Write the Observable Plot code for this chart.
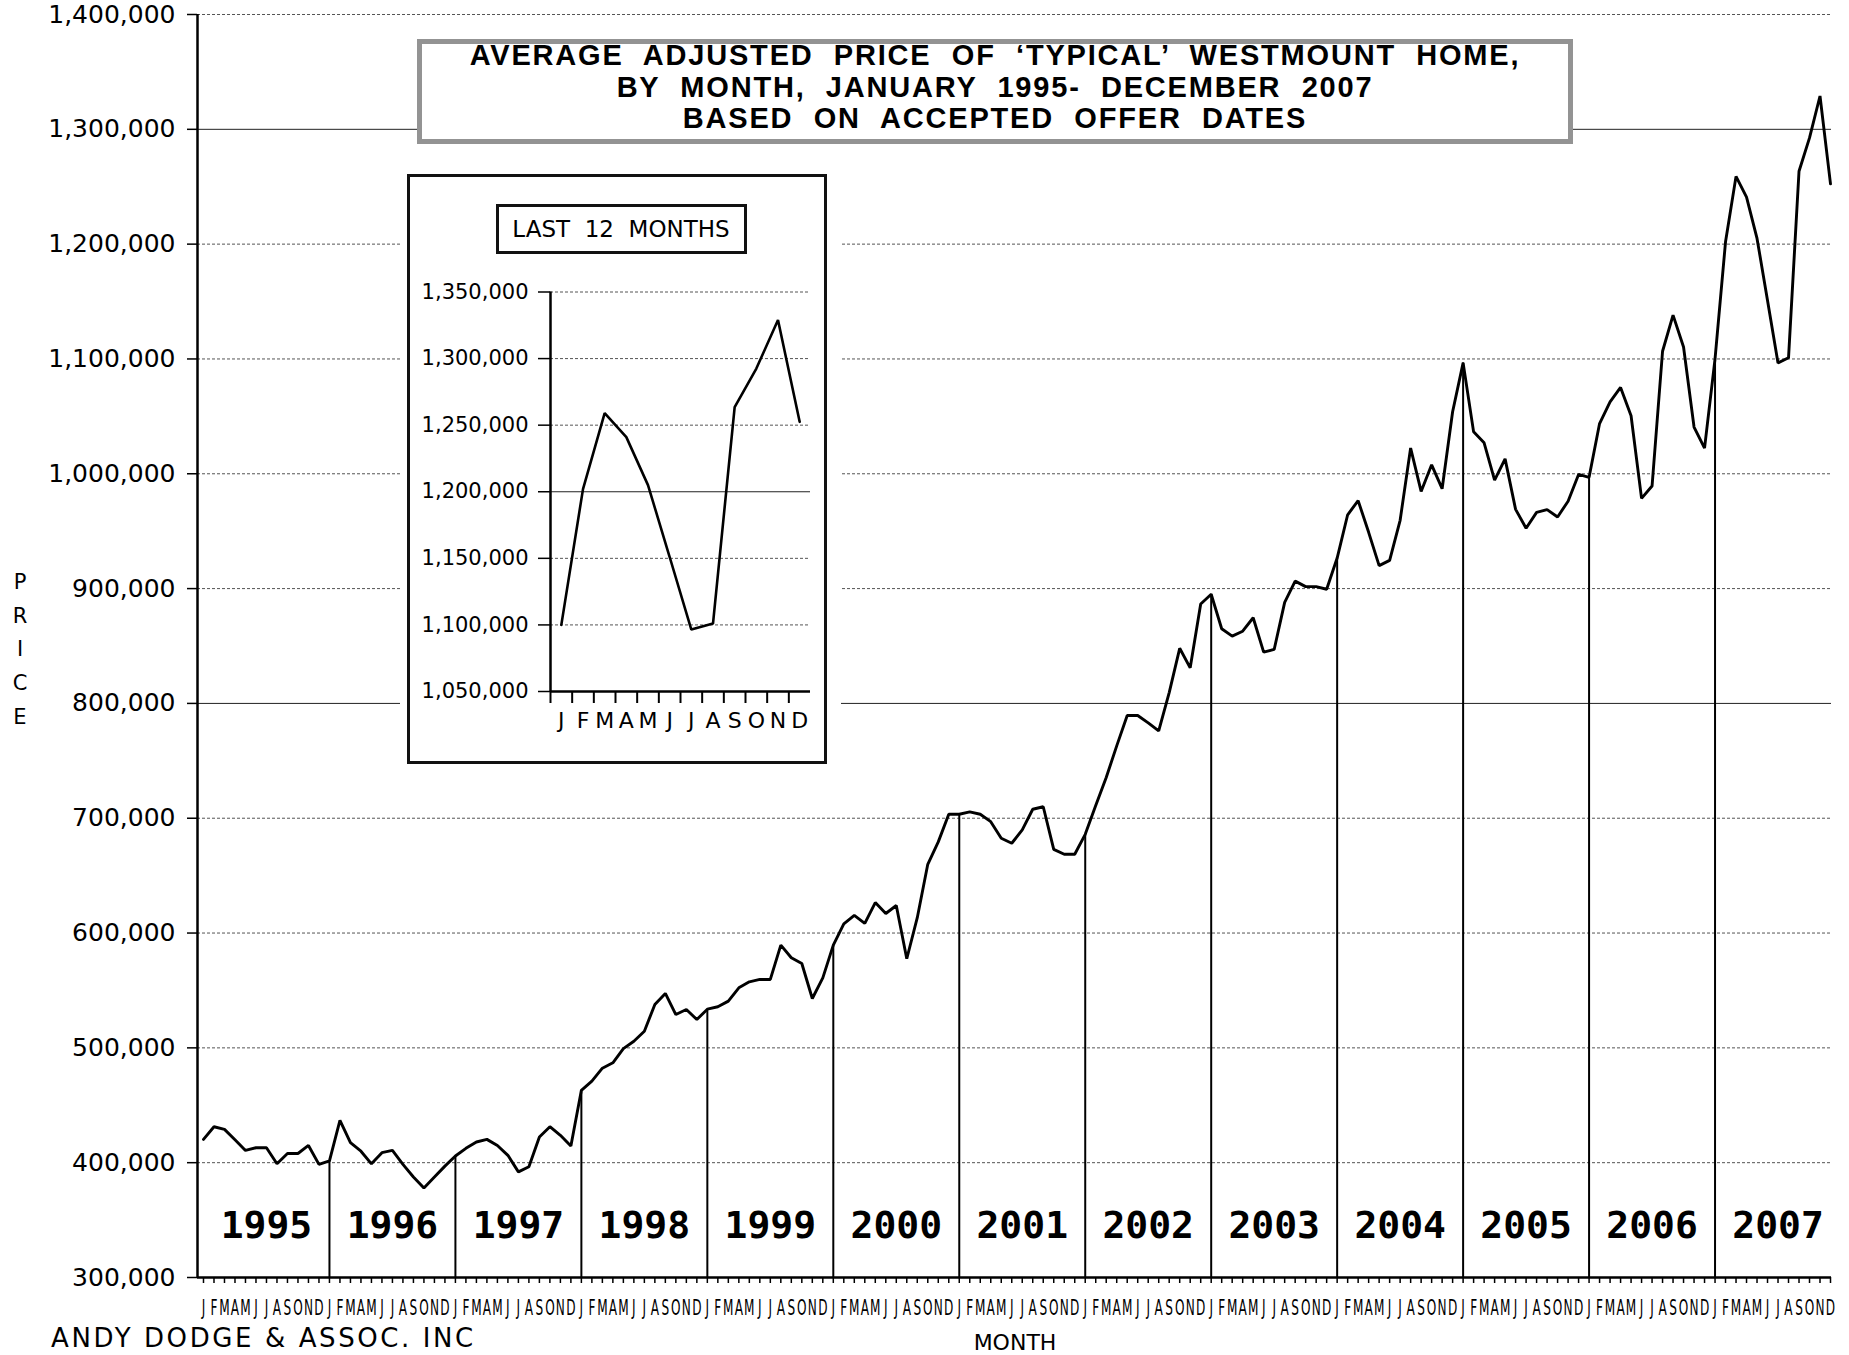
<!DOCTYPE html>
<html>
<head>
<meta charset="utf-8">
<script src="https://cdn.jsdelivr.net/npm/d3@7"></script>
<script src="https://cdn.jsdelivr.net/npm/@observablehq/plot@0.6"></script>
<style>
  html, body { margin: 0; padding: 0; background: #fff; }
  #root { position: relative; width: 1849px; height: 1355px; overflow: hidden; font-family: "DejaVu Sans", sans-serif; color: #000; }
  #main svg, #insetPlot svg { position: absolute; left: 0; top: 0; max-width: none !important; }
  .abs { position: absolute; }
</style>
</head>
<body>
<div id="root">
  <div id="main" class="abs" style="left:0;top:0;width:1849px;height:1355px;"></div>
  <div class="abs" style="left:417px;top:39px;width:1156px;height:105px;box-sizing:border-box;border:5px solid #939393;background:#fff;"></div>
  <div id="title" class="abs" style="left:417px;top:39.9px;width:1156px;text-align:center;font-family:'Liberation Sans',Arial,sans-serif;font-weight:bold;font-size:29px;line-height:31.8px;letter-spacing:1.8px;word-spacing:10.5px;white-space:nowrap;"></div>
  <div class="abs" style="left:400px;top:173px;width:441px;height:591px;background:#fff;"></div>
  <div id="inset" class="abs" style="left:407px;top:173.5px;width:420px;height:590px;box-sizing:border-box;border:3px solid #111;background:#fff;">
    <div id="insetPlot" class="abs" style="left:0;top:0;width:414px;height:584px;"></div>
    <div id="insetTitle" class="abs" style="left:85.5px;top:27px;width:251px;height:50px;box-sizing:border-box;border:3px solid #111;display:flex;align-items:center;justify-content:center;font-size:23px;white-space:pre;background:#fff;"></div>
  </div>
  <div id="ylabel" class="abs" style="left:0;top:566px;width:40px;text-align:center;font-size:21px;line-height:33.7px;"></div>
  <div id="xlabel" class="abs" style="left:915px;top:1330px;width:200px;text-align:center;font-size:22px;line-height:26px;"></div>
  <div id="credit" class="abs" style="left:51px;top:1322px;font-size:26px;line-height:32px;letter-spacing:2.6px;white-space:nowrap;"></div>
</div>
<script>
// ---------------- data ----------------
const monthLetters = ["J","F","M","A","M","J","J","A","S","O","N","D"];
const years = [1995,1996,1997,1998,1999,2000,2001,2002,2003,2004,2005,2006,2007];
// average adjusted price, one value per month, Jan 1995 .. Dec 2007
const prices1995 = [420300,431300,429000,420000,410700,413000,413000,399000,408000,408000,415000,398500];
const prices1996 = [401500,436800,417400,410000,399000,408700,410700,398500,387500,378000,387500,397000];
const prices1997 = [405800,412500,418000,420300,415000,406400,392000,396500,422300,431300,423800,414500];
const prices1998 = [463000,471000,482300,487000,499300,505800,514500,537800,547400,529000,533400,524700];
const prices1999 = [533700,535800,540700,552300,557500,559600,559600,589500,578500,573500,543000,561000];
const prices2000 = [589500,608000,615400,608400,626500,617000,624000,577600,613400,659900,679400,703500];
const prices2001 = [703500,705500,703500,697000,682600,678200,689800,707800,710000,672900,668600,668600];
const prices2002 = [686000,711000,735500,763000,789500,789500,783000,776000,809400,848000,831000,886600];
const prices2003 = [895100,865000,858600,862900,874600,844600,847000,888000,906500,901700,901700,899400];
const prices2004 = [926600,964300,976600,949000,920000,924600,959500,1022400,984600,1007800,987000,1054000];
const prices2005 = [1096600,1036500,1027000,994500,1013000,969000,952600,966400,968800,962400,976100,999400];
const prices2006 = [996900,1043700,1062700,1075200,1050500,978600,989300,1106700,1138200,1110400,1040700,1022300];
const prices2007 = [1100000,1202000,1259000,1241000,1205000,1151000,1096500,1101000,1263500,1292500,1329000,1252500];
const prices = [].concat(prices1995,prices1996,prices1997,prices1998,prices1999,prices2000,prices2001,
                         prices2002,prices2003,prices2004,prices2005,prices2006,prices2007);
const yTicks = [300000,400000,500000,600000,700000,800000,900000,1000000,1100000,1200000,1300000,1400000];
const solidGrid = [800000, 1300000];
const insetTicks = [1050000,1100000,1150000,1200000,1250000,1300000,1350000];
const insetSolid = [1200000];
const titleLines = ["AVERAGE ADJUSTED PRICE OF \u2018TYPICAL\u2019 WESTMOUNT HOME,",
                    "BY MONTH, JANUARY 1995- DECEMBER 2007",
                    "BASED ON ACCEPTED OFFER DATES"];
const insetTitle = "LAST  12  MONTHS";
const yLabel = "PRICE";
const xLabel = "MONTH";
const credit = "ANDY DODGE & ASSOC. INC";

// ---------------- main chart ----------------
const monthIdx = d3.range(prices.length);
const dividers = years.slice(1).map((y, k) => (k + 1) * 12);
const xMin = -0.571, xMax = 155.095;

const main = Plot.plot({
  width: 1849, height: 1355,
  marginLeft: 197, marginRight: 18, marginTop: 14, marginBottom: 78,
  x: {domain: [xMin, xMax]},
  y: {domain: [300000, 1400000]},
  style: {fontFamily: "DejaVu Sans", background: "transparent", color: "#000"},
  marks: [
    Plot.ruleY(yTicks.filter(v => v > 300000 && !solidGrid.includes(v)), {stroke: "#555", strokeWidth: 1, strokeDasharray: "3,2"}),
    Plot.ruleY(solidGrid, {stroke: "#222", strokeWidth: 1}),
    Plot.ruleX(dividers, {x: d => d, y1: 300000, y2: d => prices[d], stroke: "#000", strokeWidth: 2}),
    Plot.line(prices, {x: (d, i) => monthIdx[i], y: d => d, stroke: "#000", strokeWidth: 2.9, strokeLinejoin: "miter"}),
    Plot.text(years, {x: (d, i) => i * 12 + 6, frameAnchor: "bottom", dy: -40, text: d => String(d),
      fontSize: 38, fontWeight: "bold", fontFamily: "DejaVu Sans Mono", fill: "#000", ariaLabel: "year-labels"}),
    Plot.ruleX([xMin], {stroke: "#000", strokeWidth: 2.5}),
    Plot.ruleY([300000], {stroke: "#000", strokeWidth: 2.5}),
    Plot.axisY({ticks: yTicks, tickFormat: d3.format(","), tickSize: 10, tickPadding: 12, fontSize: 25, label: null, strokeWidth: 1.5}),
    Plot.axisX({ticks: monthIdx, tickFormat: i => monthLetters[i % 12], tickSize: 6, tickPadding: 16, fontSize: 22, label: null, strokeWidth: 1.5})
  ]
});
document.getElementById("main").appendChild(main);

function squeeze(svg, sel, sx) {
  d3.select(svg).selectAll(sel).each(function() {
    const t = this.getAttribute("transform");
    if (t) {
      this.setAttribute("transform", t + ` scale(${sx},1)`);
    } else {
      const x = this.getAttribute("x") || 0, y = this.getAttribute("y") || 0;
      this.removeAttribute("x"); this.removeAttribute("y");
      this.setAttribute("transform", `translate(${x},${y}) scale(${sx},1)`);
    }
  });
}
squeeze(main, 'g[aria-label="x-axis tick label"] text', 0.55);
d3.select(main).selectAll('g[aria-label="year-labels"] text').style("letter-spacing", "13px");
squeeze(main, 'g[aria-label="year-labels"] text', 0.8);

// ---------------- inset chart ----------------
const last12 = prices.slice(-12);
const inset = Plot.plot({
  width: 414, height: 584,
  marginLeft: 140, marginRight: 14, marginTop: 114.5, marginBottom: 70,
  x: {domain: [-0.5, 11.5]},
  y: {domain: [1050000, 1350000]},
  style: {fontFamily: "DejaVu Sans", background: "transparent", color: "#000"},
  marks: [
    Plot.ruleY(insetTicks.filter(v => v > 1050000 && !insetSolid.includes(v)), {stroke: "#555", strokeWidth: 1, strokeDasharray: "3,2"}),
    Plot.ruleY(insetSolid, {stroke: "#222", strokeWidth: 1}),
    Plot.line(last12, {x: (d, i) => i, y: d => d, stroke: "#000", strokeWidth: 2.6, strokeLinejoin: "miter"}),
    Plot.ruleX([-0.5], {stroke: "#000", strokeWidth: 2.5}),
    Plot.ruleY([1050000], {stroke: "#000", strokeWidth: 2.5}),
    Plot.axisY({ticks: insetTicks, tickFormat: d3.format(","), tickSize: 12, tickPadding: 10, fontSize: 21, label: null, strokeWidth: 1.5}),
    Plot.axisX({ticks: d3.range(-0.5, 11, 1), tickFormat: () => "", tickSize: 12, label: null, strokeWidth: 2}),
    Plot.axisX({ticks: d3.range(12), tickFormat: i => monthLetters[i], tickSize: 0, tickPadding: 21, fontSize: 22, label: null})
  ]
});
document.getElementById("insetPlot").appendChild(inset);

// ---------------- texts ----------------
document.getElementById("title").innerHTML = titleLines.map(s => `<div>${s}</div>`).join("");
document.getElementById("insetTitle").textContent = insetTitle;
document.getElementById("ylabel").innerHTML = yLabel.split("").map(c => `<div>${c}</div>`).join("");
document.getElementById("xlabel").textContent = xLabel;
document.getElementById("credit").textContent = credit;
</script>
</body>
</html>
